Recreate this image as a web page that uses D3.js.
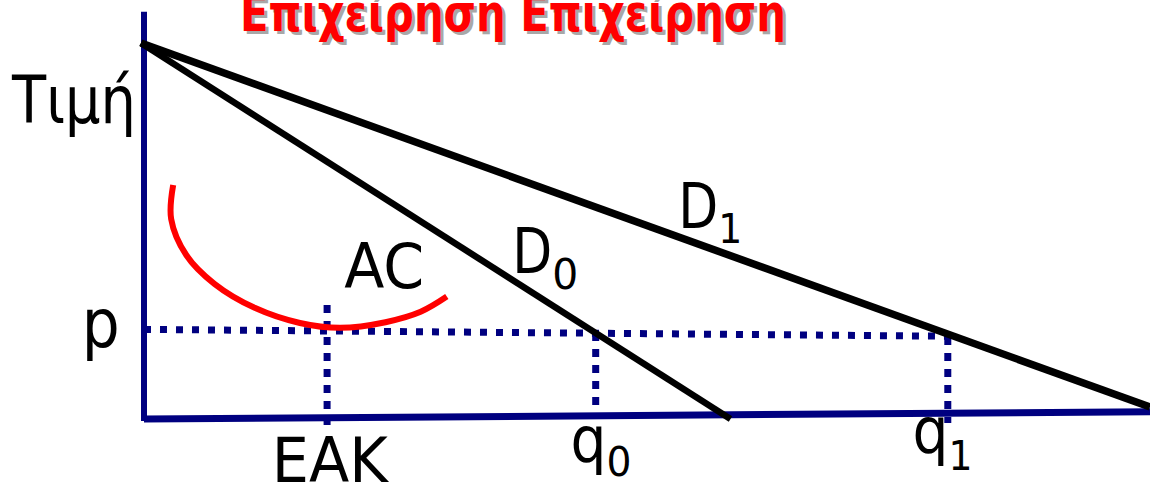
<!DOCTYPE html>
<html>
<head>
<meta charset="utf-8">
<script src="https://cdn.jsdelivr.net/npm/d3@7"></script>
<style>
  html, body { margin: 0; padding: 0; background: #fff; }
  svg { display: block; }
</style>
</head>
<body>
<svg id="chart" width="1150" height="486"></svg>
<script>
// ---------- data (quantity 0..100, price 0..100) ----------
const titleText = "Επιχείρηση Επιχείρηση";
const yAxisLabel = "Τιμή";
const yAxisSeg = [[0, -0.5], [0, 101.8]];
const xAxisSeg = [[0, 0], [100, 1.8]];
const demandD0 = [[-0.3, 94], [58.3, 0]];
const demandD1 = [[-0.3, 94], [100, 3]];
const acCurve = [[2.9, 58.5], [2.7, 50], [4.2, 41], [7.0, 33.8], [11.0, 27.8], [15.5, 24.0],
                 [19.5, 22.8], [24.0, 24.2], [27.5, 26.8], [30.1, 30.6]];
const priceLine = [[0, 22.4], [79.9, 20.7]];
const dropLines = [
  { name: "EAK", seg: [[18.2, 28.5], [18.2, -1.8]] },
  { name: "q0",  seg: [[44.9, 21.5], [44.9, 0.4]] },
  { name: "q1",  seg: [[79.9, 20.5], [79.9, -1.0]] }
];
const tickLabels = [
  { text: "p",   sub: "",  q: -6.2,  P: 18.0, size: 68, len: 38 },
  { text: "EAK", sub: "",  q: 12.7,  P: -15.8, size: 62, len: 116 },
  { text: "q",   sub: "0", q: 42.4,  P: -10.8, size: 64, len: 36, subLen: 25, subSize: 41, subDq: 3.5, subDP: -3.5 },
  { text: "q",   sub: "1", q: 76.4,  P: -8.5,  size: 64, len: 36, subLen: 24, subSize: 41, subDq: 3.5, subDP: -4.3 }
];
const curveLabels = [
  { text: "AC", sub: "",  q: 19.9, P: 32.7, size: 62, len: 80 },
  { text: "D",  sub: "0", q: 36.6, P: 36.5, size: 62, len: 40, subLen: 26, subSize: 43, subDq: 4.2, subDP: -4.0 },
  { text: "D",  sub: "1", q: 53.1, P: 47.7, size: 62, len: 40, subLen: 24, subSize: 41, subDq: 4.4, subDP: -3.7 }
];

// ---------- scales ----------
const svg = d3.select("#chart");
const x = d3.scaleLinear().domain([0, 100]).range([144, 1150]);
const y = d3.scaleLinear().domain([0, 100]).range([419, 19]);
const line = d3.line().x(d => x(d[0])).y(d => y(d[1]));
const smooth = d3.line().x(d => x(d[0])).y(d => y(d[1])).curve(d3.curveCatmullRom.alpha(0.5));

const NAVY = "#000080", RED = "#ff0000";
const FONT = "DejaVu Sans, Verdana, sans-serif";

// ---------- title ----------
const title = svg.append("g");
[["#a8a8a8", 3], [RED, 0]].forEach(([c, o]) => {
  title.append("text")
    .attr("x", 240 + o).attr("y", 31 + o)
    .attr("font-family", FONT).attr("font-weight", "bold").attr("font-size", 51)
    .attr("textLength", 546).attr("lengthAdjust", "spacingAndGlyphs")
    .attr("fill", c).text(titleText);
});

// ---------- dotted guides ----------
svg.append("path").datum(priceLine).attr("d", line)
  .attr("fill", "none").attr("stroke", NAVY).attr("stroke-width", 7).attr("stroke-dasharray", "7 9");
svg.selectAll(".drop").data(dropLines).enter().append("path")
  .attr("d", d => line(d.seg))
  .attr("fill", "none").attr("stroke", NAVY).attr("stroke-width", 7).attr("stroke-dasharray", "8 8");

// ---------- axes ----------
svg.append("path").datum(xAxisSeg).attr("d", line)
  .attr("stroke", NAVY).attr("stroke-width", 7).attr("fill", "none");
svg.append("path").datum(yAxisSeg).attr("d", line)
  .attr("stroke", NAVY).attr("stroke-width", 6).attr("fill", "none");

// ---------- AC ----------
svg.append("path").datum(acCurve).attr("d", smooth)
  .attr("fill", "none").attr("stroke", RED).attr("stroke-width", 6);

// ---------- demand lines ----------
svg.append("path").datum(demandD0).attr("d", line)
  .attr("fill", "none").attr("stroke", "#000").attr("stroke-width", 6.5);
svg.append("path").datum(demandD1).attr("d", line)
  .attr("fill", "none").attr("stroke", "#000").attr("stroke-width", 7.5);

// ---------- labels ----------
function drawLabel(d) {
  const g = svg.append("g");
  g.append("text").attr("x", x(d.q)).attr("y", y(d.P))
    .attr("font-family", FONT).attr("font-size", d.size)
    .attr("textLength", d.len).attr("lengthAdjust", "spacingAndGlyphs")
    .attr("fill", "#000").text(d.text);
  if (d.sub) {
    g.append("text").attr("x", x(d.q) + d.len).attr("y", y(d.P + d.subDP))
      .attr("font-family", FONT).attr("font-size", d.subSize)
      .attr("textLength", d.subLen).attr("lengthAdjust", "spacingAndGlyphs")
      .attr("fill", "#000").text(d.sub);
  }
}
tickLabels.forEach(drawLabel);
curveLabels.forEach(drawLabel);

svg.append("text").attr("x", 12).attr("y", y(74))
  .attr("font-family", FONT).attr("font-size", 66)
  .attr("textLength", 124).attr("lengthAdjust", "spacingAndGlyphs")
  .attr("fill", "#000").text(yAxisLabel);
</script>
</body>
</html>
